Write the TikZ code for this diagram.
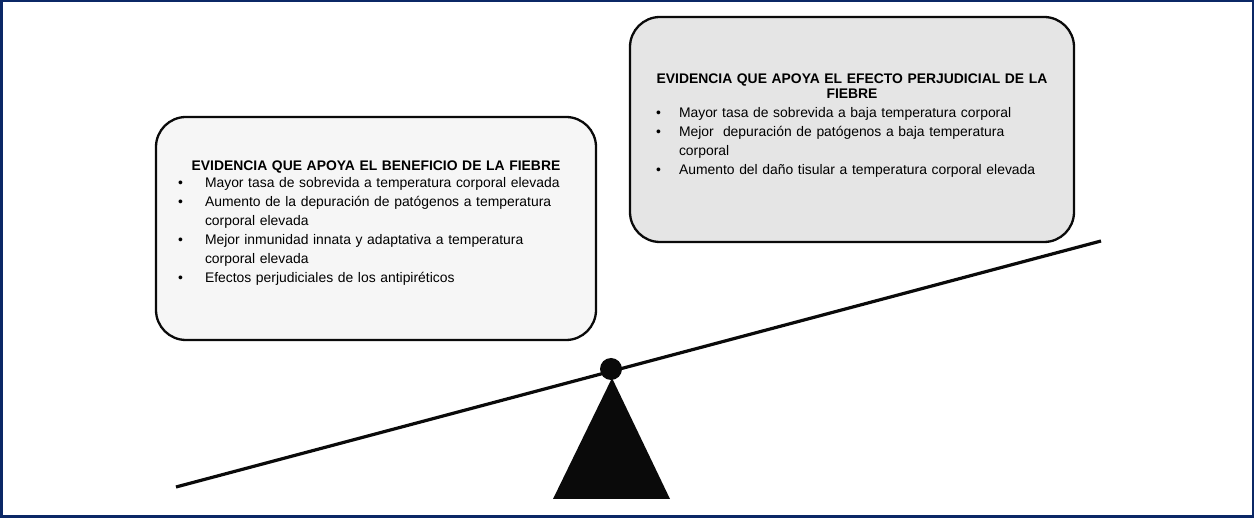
\documentclass[tikz,border=0pt]{standalone}
\usepackage{fontspec}
\setmainfont{Liberation Sans}
\usepackage{enumitem}
\usetikzlibrary{positioning,calc}
\definecolor{feverNavy}{HTML}{0B2866}
\definecolor{feverInk}{HTML}{0A0A0A}
\definecolor{feverSoft}{HTML}{F6F6F6}
\definecolor{feverShade}{HTML}{E5E5E5}
\setlist[itemize]{itemsep=0pt,parsep=0pt,topsep=0pt,partopsep=0pt}
\tikzset{
  evidenceBox/.style={
    rectangle,
    rounded corners=30pt,
    draw=feverInk,
    fill=feverSoft,
    line width=2.3pt,
    align=left,
    inner xsep=21pt,
    font=\fontsize{13.9}{19}\selectfont
  },
  evidenceBoxDark/.style={
    evidenceBox,
    fill=feverShade,
    inner xsep=26pt
  },
  beam/.style={
    line width=3.2pt,
    draw=feverInk
  },
  pivot/.style={
    circle,
    fill=feverInk,
    minimum size=22pt,
    inner sep=0pt
  },
  frameLine/.style={
    draw=feverNavy,
    line width=2.5pt
  }
}

\begin{document}
\begin{tikzpicture}[x=1pt,y=-1pt]
  \useasboundingbox (0,0) rectangle (1254,518);
  \draw[frameLine] (1.25,1.25) rectangle (1252.75,516.75);
  % balance beam and fulcrum
  \coordinate (beamLeft) at (176,487);
  \coordinate (beamRight) at (1101,241);
  \coordinate (apex) at (612,378);
  \coordinate (baseLeft) at (553,499);
  \coordinate (baseRight) at (670,499);
  \draw[beam] (beamLeft) -- (beamRight);
  \fill[feverInk] (apex) -- (baseRight) -- (baseLeft) -- cycle;
  \node[pivot] (pivot) at (611,369) {};
  % evidence boxes
  \node[evidenceBox,text width=398pt,minimum width=440pt,minimum height=223pt] (benefit) at (376,228.5) {%
    {\centering\bfseries EVIDENCIA QUE APOYA EL BENEFICIO DE LA FIEBRE\par}
    \vspace{-2pt}
    \begin{itemize}[leftmargin=28pt,labelsep=22pt]
      \item Mayor tasa de sobrevida a temperatura corporal elevada
      \item Aumento de la depuración de patógenos a temperatura\newline corporal elevada
      \item Mejor inmunidad innata y adaptativa a temperatura\newline corporal elevada
      \item Efectos perjudiciales de los antipiréticos
    \end{itemize}
    \par\nointerlineskip\rule{0pt}{10pt}};
  \node[evidenceBoxDark,text width=392pt,minimum width=444pt,minimum height=225pt] (harm) at (852,129.5) {%
    {\centering\bfseries EVIDENCIA QUE APOYA EL EFECTO PERJUDICIAL DE LA\\[-4pt]FIEBRE\par}
    \begin{itemize}[leftmargin=23pt,labelsep=18pt]
      \item Mayor tasa de sobrevida a baja temperatura corporal
      \item Mejor\ \ depuración de patógenos a baja temperatura\newline corporal
      \item Aumento del daño tisular a temperatura corporal elevada
    \end{itemize}
    \par\nointerlineskip\rule{0pt}{8pt}};
\end{tikzpicture}
\end{document}
